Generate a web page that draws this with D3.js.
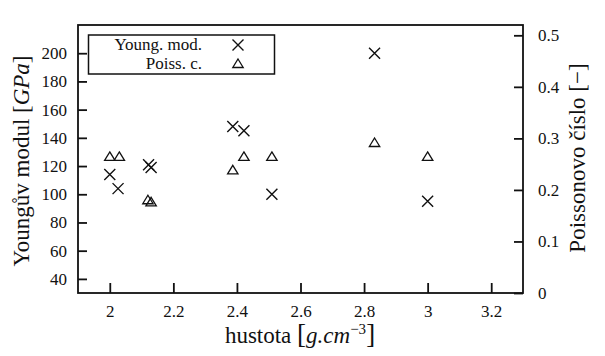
<!DOCTYPE html>
<html><head><meta charset="utf-8">
<script src="https://cdn.jsdelivr.net/npm/d3@7"></script>
</head>
<body style="margin:0;background:#fff">
<svg id="c" width="605" height="356"></svg>
<script>
// Data
const youngX = [2.0, 2.026, 2.122, 2.13, 2.387, 2.422, 2.51, 2.833, 3.0];
const youngY = [114, 104, 121, 119, 148, 145, 100, 200, 95];
const poissX = [2.0, 2.03, 2.12, 2.13, 2.387, 2.422, 2.51, 2.833, 3.0];
const poissY = [0.264, 0.264, 0.180, 0.176, 0.238, 0.264, 0.264, 0.291, 0.264];
const xTicks = [2, 2.2, 2.4, 2.6, 2.8, 3, 3.2];
const yTicks = [40, 60, 80, 100, 120, 140, 160, 180, 200];
const y2Ticks = [0, 0.1, 0.2, 0.3, 0.4, 0.5];
const legendLabels = ["Young. mod.", "Poiss. c."];

const FONT = "serif";
const L = 78, R = 523, T = 25, B = 293;
const svg = d3.select("#c");
const x = d3.scaleLinear().domain([1.9, 3.3]).range([L, R]);
const y = d3.scaleLinear().domain([30, 220]).range([B, T]);
const y2 = d3.scaleLinear().domain([0, 0.52]).range([B, T]);

const fmt = d => String(d);
const gx = svg.append("g").attr("transform", `translate(0,${B})`)
  .call(d3.axisBottom(x).tickValues(xTicks).tickFormat(fmt).tickSize(-10).tickPadding(12));
const gy = svg.append("g").attr("transform", `translate(${L},0)`)
  .call(d3.axisLeft(y).tickValues(yTicks).tickFormat(fmt).tickSize(-9).tickPadding(11));
const gy2 = svg.append("g").attr("transform", `translate(${R},0)`)
  .call(d3.axisRight(y2).tickValues(y2Ticks).tickFormat(fmt).tickSize(-9).tickPadding(15));
[gx, gy, gy2].forEach(g => {
  g.attr("font-family", FONT).attr("font-size", 17);
  g.select(".domain").remove();
  g.selectAll(".tick line").attr("stroke", "#111").attr("stroke-width", 1.8);
  g.selectAll(".tick text").attr("font-family", FONT).attr("font-size", 17).attr("fill", "#111");
});

svg.append("rect").attr("x", L).attr("y", T).attr("width", R - L).attr("height", B - T)
  .attr("fill", "none").attr("stroke", "#111").attr("stroke-width", 1.8);

// markers
const cross = (g, cx, cy) => {
  const s = 5.5;
  g.append("path").attr("d", `M${cx-s},${cy-s}L${cx+s},${cy+s}M${cx-s},${cy+s}L${cx+s},${cy-s}`)
    .attr("stroke", "#111").attr("stroke-width", 1.4).attr("fill", "none");
};
const tri = (g, cx, cy) => {
  g.append("path").attr("d", `M${cx},${cy-5}L${cx+5.2},${cy+3.5}L${cx-5.2},${cy+3.5}Z`)
    .attr("stroke", "#111").attr("stroke-width", 1.3).attr("fill", "none");
};
const pts = svg.append("g");
youngX.forEach((d, i) => cross(pts, x(d), y(youngY[i])));
poissX.forEach((d, i) => tri(pts, x(d), y2(poissY[i])));

const T_ = (sel) => sel.append("text").attr("font-family", FONT).attr("fill", "#111");

// legend
const lg = svg.append("g");
lg.append("rect").attr("x", 88.5).attr("y", 35).attr("width", 186).attr("height", 39)
  .attr("fill", "#fff").attr("stroke", "#111").attr("stroke-width", 1.5);
legendLabels.forEach((t, i) => {
  const yy = 45 + i * 19;
  T_(lg).attr("x", 202).attr("y", yy + 5).attr("text-anchor", "end")
    .attr("font-size", 17).text(t);
  if (i === 0) cross(lg, 238, yy); else tri(lg, 238, yy);
});

// axis titles
const xl = T_(svg).attr("x", 300).attr("y", 343).attr("text-anchor", "middle").attr("font-size", 23);
xl.append("tspan").text("hustota ");
xl.append("tspan").attr("font-size", 27).text("[");
xl.append("tspan").attr("font-style", "italic").text("g.cm");
xl.append("tspan").attr("font-size", 15).attr("dy", -9).text("−3");
xl.append("tspan").attr("font-size", 27).attr("dy", 9).text("]");

const yl = T_(svg).attr("transform", "translate(29,161) rotate(-90)")
  .attr("text-anchor", "middle").attr("font-size", 23);
yl.append("tspan").text("Youngův modul ");
yl.append("tspan").text("[");
yl.append("tspan").attr("font-style", "italic").text("GPa");
yl.append("tspan").text("]");

const yr = T_(svg).attr("transform", "translate(585,158) rotate(-90)")
  .attr("text-anchor", "middle").attr("font-size", 23);
yr.append("tspan").text("Poissonovo číslo [−]");
</script></body></html>
